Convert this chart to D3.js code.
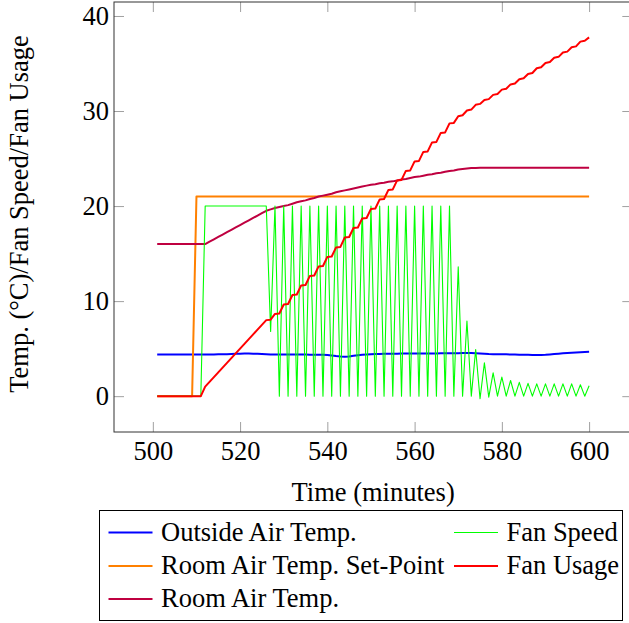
<!DOCTYPE html>
<html>
<head>
<meta charset="utf-8">
<script src="https://cdn.jsdelivr.net/npm/d3@7"></script>
<style>
  body { margin: 0; background: #fff; }
</style>
</head>
<body>
<div id="chart"></div>
<script>
// minutes 501..600, one sample per minute
const minutes = d3.range(501, 601);

const outsideTemp = [
  4.38, 4.38, 4.38, 4.38, 4.38, 4.38, 4.38, 4.38, 4.38, 4.38,
  4.38, 4.38, 4.38, 4.39, 4.40, 4.41, 4.41, 4.43, 4.45, 4.46,
  4.48, 4.48, 4.47, 4.45, 4.43, 4.41, 4.39, 4.38, 4.38, 4.38,
  4.38, 4.38, 4.38, 4.38, 4.38, 4.37, 4.37, 4.36, 4.35, 4.33,
  4.28, 4.22, 4.18, 4.16, 4.18, 4.24, 4.31, 4.36, 4.39, 4.41,
  4.43, 4.44, 4.45, 4.45, 4.46, 4.47, 4.48, 4.48, 4.48, 4.49,
  4.49, 4.49, 4.50, 4.50, 4.50, 4.51, 4.51, 4.51, 4.52, 4.52,
  4.53, 4.53, 4.53, 4.52, 4.49, 4.46, 4.43, 4.42, 4.41, 4.40,
  4.40, 4.39, 4.38, 4.37, 4.36, 4.35, 4.34, 4.33, 4.33, 4.35,
  4.39, 4.43, 4.47, 4.51, 4.54, 4.57, 4.60, 4.62, 4.64, 4.66
];

const setPoint = [
  0, 0, 0, 0, 0, 0, 0, 0, 0, 21,
  21, 21, 21, 21, 21, 21, 21, 21, 21, 21,
  21, 21, 21, 21, 21, 21, 21, 21, 21, 21,
  21, 21, 21, 21, 21, 21, 21, 21, 21, 21,
  21, 21, 21, 21, 21, 21, 21, 21, 21, 21,
  21, 21, 21, 21, 21, 21, 21, 21, 21, 21,
  21, 21, 21, 21, 21, 21, 21, 21, 21, 21,
  21, 21, 21, 21, 21, 21, 21, 21, 21, 21,
  21, 21, 21, 21, 21, 21, 21, 21, 21, 21,
  21, 21, 21, 21, 21, 21, 21, 21, 21, 21
];

const roomTemp = [
  16, 16, 16, 16, 16, 16, 16, 16, 16, 16,
  16, 16, 16.25, 16.5, 16.75, 17.0, 17.25, 17.5, 17.75, 18.0,
  18.25, 18.5, 18.75, 19.0, 19.25, 19.5, 19.65, 19.8, 19.9, 20.0,
  20.1, 20.25, 20.4, 20.5, 20.6, 20.75, 20.85, 21.0, 21.1, 21.2,
  21.3, 21.45, 21.55, 21.65, 21.75, 21.85, 21.95, 22.05, 22.15, 22.25,
  22.3, 22.4, 22.45, 22.55, 22.6, 22.7, 22.8, 22.85, 22.95, 23.05,
  23.1, 23.2, 23.3, 23.35, 23.45, 23.5, 23.6, 23.7, 23.75, 23.85,
  23.9, 23.95, 24.0, 24.0, 24.02, 24.02, 24.02, 24.02, 24.02, 24.02,
  24.02, 24.02, 24.02, 24.02, 24.02, 24.02, 24.02, 24.02, 24.02, 24.02,
  24.02, 24.02, 24.02, 24.02, 24.02, 24.02, 24.02, 24.02, 24.02, 24.02
];

const fanSpeed = [
  0, 0, 0, 0, 0, 0, 0, 0, 0, 0,
  0, 20, 20, 20, 20, 20, 20, 20, 20, 20,
  20, 20, 20, 20, 20, 20, 6.8, 20, 0, 20,
  0, 20, 0, 20, 0, 20, 0, 20, 0, 20,
  0, 20, 0, 20, 0, 20, 0, 20, 0, 20,
  0, 20, 0, 20, 0, 20, 0, 20, 0, 20,
  0, 20, 0, 20, 0, 20, 0, 20, 0, 13.6,
  0, 7.9, 0, 4.9, -0.27, 3.5, -0.1, 2.45, 0, 2.0,
  0, 1.65, 0, 1.45, 0, 1.35, 0, 1.3, 0, 1.3,
  0, 1.3, 0, 1.3, 0, 1.3, 0, 1.2, 0, 1.1
];

const fanUsage = [
  0, 0, 0, 0, 0, 0, 0, 0, 0, 0,
  0, 1.0, 1.5, 2.0, 2.5, 3.0, 3.5, 4.0, 4.5, 5.0,
  5.5, 6.0, 6.5, 7.0, 7.5, 8.0, 8.05, 8.65, 8.7, 9.65,
  9.7, 10.65, 10.7, 11.65, 11.7, 12.65, 12.7, 13.65, 13.7, 14.65,
  14.7, 15.65, 15.7, 16.7, 16.75, 17.7, 17.75, 18.7, 18.75, 19.7,
  19.75, 20.7, 20.75, 21.7, 21.75, 22.7, 22.75, 23.7, 23.75, 24.7,
  24.75, 25.7, 25.75, 26.7, 26.75, 27.7, 27.75, 28.7, 28.75, 29.45,
  29.55, 30.05, 30.15, 30.65, 30.75, 31.15, 31.25, 31.7, 31.8, 32.25,
  32.35, 32.8, 32.9, 33.35, 33.45, 33.9, 34.0, 34.5, 34.6, 35.05,
  35.15, 35.6, 35.7, 36.15, 36.25, 36.7, 36.8, 37.3, 37.4, 37.75
];

const xTicks = [500, 520, 540, 560, 580, 600];
const yTicks = [0, 10, 20, 30, 40];

const series = [
  { name: "Outside Air Temp.", values: outsideTemp, color: "#0000ff", width: 2 },
  { name: "Room Air Temp. Set-Point", values: setPoint, color: "#ff8000", width: 2 },
  { name: "Room Air Temp.", values: roomTemp, color: "#bf0040", width: 2 },
  { name: "Fan Speed", values: fanSpeed, color: "#00ff00", width: 1.1 },
  { name: "Fan Usage", values: fanUsage, color: "#ff0000", width: 2 }
];

const FONT = "'Liberation Serif'";
const FS = 26.5;
const width = 629, height = 623;
const plot = { left: 114, right: 632.3, top: 2, bottom: 432 };

const svg = d3.select("#chart").append("svg")
  .attr("width", width)
  .attr("height", height);

const x = d3.scaleLinear().domain([491.1, 609.9]).range([plot.left, plot.right]);
const y = d3.scaleLinear().domain([-3.77, 41.47]).range([plot.bottom, plot.top]);

svg.append("clipPath").attr("id", "clip")
  .append("rect")
  .attr("x", plot.left).attr("y", plot.top)
  .attr("width", plot.right - plot.left).attr("height", plot.bottom - plot.top);

// lines
const line = d3.line()
  .x((d, i) => x(minutes[i]))
  .y(d => y(d));

svg.append("g")
  .attr("clip-path", "url(#clip)")
  .selectAll("path")
  .data(series)
  .join("path")
  .attr("fill", "none")
  .attr("stroke", d => d.color)
  .attr("stroke-width", d => d.width)
  .attr("stroke-linejoin", "round")
  .attr("d", d => line(d.values));

// axes, ticks pointing inward
function styleAxis(g) {
  g.attr("font-family", FONT).attr("font-size", FS);
  g.select(".domain").remove();
  g.selectAll(".tick line").attr("stroke", "#a0a0a0").attr("stroke-width", 1);
  g.selectAll(".tick text").attr("fill", "#000")
    .attr("font-size", FS).attr("font-family", FONT);
}

svg.append("g")
  .attr("transform", `translate(0,${plot.bottom})`)
  .call(d3.axisBottom(x).tickValues(xTicks).tickSize(-10).tickPadding(9))
  .call(styleAxis);

svg.append("g")
  .attr("transform", `translate(0,${plot.top})`)
  .call(d3.axisTop(x).tickValues(xTicks).tickSize(-10).tickFormat(""))
  .call(styleAxis);

svg.append("g")
  .attr("transform", `translate(${plot.left},0)`)
  .call(d3.axisLeft(y).tickValues(yTicks).tickSize(-10).tickPadding(5))
  .call(styleAxis);

svg.append("g")
  .attr("transform", `translate(${plot.right},0)`)
  .call(d3.axisRight(y).tickValues(yTicks).tickSize(-10).tickFormat(""))
  .call(styleAxis);

// frame
svg.append("rect")
  .attr("x", plot.left).attr("y", plot.top)
  .attr("width", plot.right - plot.left).attr("height", plot.bottom - plot.top)
  .attr("fill", "none")
  .attr("stroke", "#333")
  .attr("stroke-width", 1);

// axis labels
svg.append("text")
  .attr("x", (plot.left + plot.right) / 2)
  .attr("y", 501)
  .attr("text-anchor", "middle")
  .attr("font-family", FONT)
  .attr("font-size", FS)
  .text("Time (minutes)");

svg.append("text")
  .attr("transform", "translate(28,214) rotate(-90)")
  .attr("text-anchor", "middle")
  .attr("font-family", FONT)
  .attr("font-size", FS)
  .text("Temp. (°C)/Fan Speed/Fan Usage");

// legend, drawn in two columns
const legendOrder = [
  { s: series[0], col: 0, row: 0 },
  { s: series[1], col: 0, row: 1 },
  { s: series[2], col: 0, row: 2 },
  { s: series[3], col: 1, row: 0 },
  { s: series[4], col: 1, row: 1 }
];
const colX = [108.5, 454];
const rowY = [532.5, 566, 599];

const legend = svg.append("g");
legend.append("rect")
  .attr("x", 99.5).attr("y", 510.5)
  .attr("width", 523).attr("height", 110)
  .attr("fill", "#fff")
  .attr("stroke", "#000")
  .attr("stroke-width", 1);

const item = legend.selectAll("g.item")
  .data(legendOrder)
  .join("g")
  .attr("class", "item")
  .attr("transform", d => `translate(${colX[d.col]},${rowY[d.row]})`);

item.append("line")
  .attr("x1", 0).attr("x2", 44)
  .attr("y1", 0).attr("y2", 0)
  .attr("stroke", d => d.s.color)
  .attr("stroke-width", d => d.s.width);

item.append("text")
  .attr("x", 52.5)
  .attr("y", 8)
  .attr("font-family", FONT)
  .attr("font-size", FS)
  .text(d => d.s.name);
</script>
</body>
</html>
